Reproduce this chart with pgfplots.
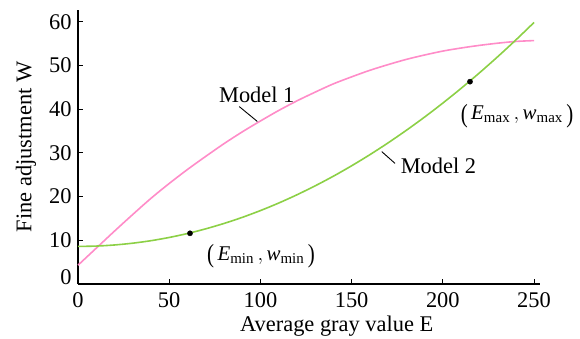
\documentclass[border=0pt]{standalone}
\usepackage{pgfplots}
\pgfplotsset{compat=1.18}
\usepackage{fontspec}
\setmainfont{Liberation Serif}
\definecolor{pinkc}{RGB}{255,140,200}
\definecolor{greenc}{RGB}{140,208,70}
\newcommand{\sub}[1]{\mbox{\fontsize{15}{15}\selectfont #1}}
\newcommand{\lp}{\raisebox{-2.5bp}{\scalebox{1}[1.25]{(}}\,}
\newcommand{\rp}{\,\raisebox{-2.5bp}{\scalebox{1}[1.25]{)}}}
\begin{document}
\begin{tikzpicture}
\useasboundingbox (-78bp,-55bp) rectangle (502bp,284bp);
\begin{axis}[
  scale only axis,
  width=461.5bp, height=274bp,
  xmin=0, xmax=253, ymin=0, ymax=62.7,
  axis lines=left,
  axis line style={-, line width=1.2pt},
  tick align=inside,
  major tick length=5bp,
  tick style={black, line width=1pt},
  xtick={0,50,100,150,200,250},
  ytick={10,20,30,40,50,60},
  extra y ticks={0},
  extra y tick style={yticklabel style={yshift=7bp}, major tick length=0pt},
  /pgf/number format/assume math mode=true,
  tick label style={font=\fontsize{22.5}{22.5}\selectfont, black},
  xticklabel style={yshift=-5bp},
  yticklabel style={xshift=-3bp},
  xlabel={Average gray value E},
  ylabel={Fine adjustment W},
  label style={font=\fontsize{22.5}{23}\selectfont},
  xlabel style={xshift=28bp, yshift=-1.5bp},
  ylabel style={yshift=6bp},
  clip=false,
]
\addplot[pinkc, line width=1.6bp, smooth] coordinates {
(0,4.3) (10,8.2) (20,12.1) (30,15.9) (40,19.6) (50,23.0) (60,26.2) (70,29.2)
(80,32.1) (90,34.8) (100,37.3) (110,39.7) (120,41.9) (130,43.9) (140,45.8)
(150,47.4) (160,48.9) (170,50.2) (180,51.4) (190,52.4) (200,53.3) (210,54.0)
(220,54.6) (230,55.1) (240,55.5) (250,55.7)
};
\addplot[greenc, line width=1.6bp, smooth] coordinates {
(0,8.6) (10,8.68) (20,8.93) (30,9.34) (40,9.91) (50,10.65) (60,11.55) (70,12.62)
(80,13.85) (90,15.24) (100,16.8) (110,18.52) (120,20.41) (130,22.46) (140,24.67)
(150,27.05) (160,29.59) (170,32.30) (180,35.17) (190,38.20) (200,41.4) (210,44.76)
(220,48.29) (230,51.98) (240,55.83) (250,59.85)
};
\addplot[only marks, mark=*, mark size=2.6bp, black] coordinates {(61.4,11.6) (214.9,46.3)};
\draw[line width=0.9pt] (axis cs:88.4,40.6) -- (axis cs:98.3,37.2);
\draw[line width=0.9pt] (axis cs:166.5,30.3) -- (axis cs:173.8,27.6);
\node[font=\fontsize{22.5}{23}\selectfont] at (axis cs:98,43.4) {Model 1};
\node[font=\fontsize{22.5}{23}\selectfont] at (axis cs:197.6,27.0) {Model 2};
\node[font=\fontsize{21}{22}\selectfont] at (axis cs:100.3,6.3)
  {\lp$\mbox{\itshape E}_{\sub{min}}\,,\mbox{\itshape w}_{\sub{min}}$\rp};
\node[font=\fontsize{21}{22}\selectfont] at (axis cs:240.7,38.5)
  {\lp$\mbox{\itshape E}_{\sub{max}}\,,\mbox{\itshape w}_{\sub{max}}$\rp};
\end{axis}
\end{tikzpicture}
\end{document}
